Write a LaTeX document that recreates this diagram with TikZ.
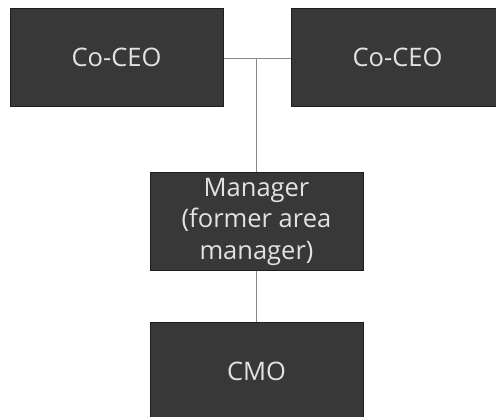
\documentclass[tikz,border=0pt]{standalone}
\usepackage{fontspec}
\setmainfont{Open Sans}
\definecolor{boxfill}{HTML}{383838}
\definecolor{boxline}{HTML}{1E1E1E}
\definecolor{boxtext}{HTML}{E2E2E2}
\definecolor{conn}{HTML}{8A8A8A}
\begin{document}
\begin{tikzpicture}[x=1pt,y=-1pt,
  orgbox/.style={draw=boxline, line width=1pt, fill=boxfill, text=boxtext,
    minimum width=213pt, minimum height=98pt, inner sep=0pt, align=center,
    font=\fontsize{25.5}{31.5}\selectfont},
  link/.style={draw=conn, line width=0.9pt}]
\useasboundingbox (0,0) rectangle (496,416);
\node[orgbox] (ceo1) at (116.5,57) {Co-CEO};
\node[orgbox] (ceo2) at (397.5,57) {Co-CEO};
\node[orgbox] (mgr) at (256.5,221.5) {Manager\\(former area\\manager)};
\node[orgbox] (cmo) at (256.5,371) {CMO};
\coordinate (j) at (256.5,58);
\draw[link] (ceo1.east |- j) -- (ceo2.west |- j);
\draw[link] (j) -- (mgr.north);
\draw[link] (mgr.south) -- (cmo.north);
\end{tikzpicture}
\end{document}
